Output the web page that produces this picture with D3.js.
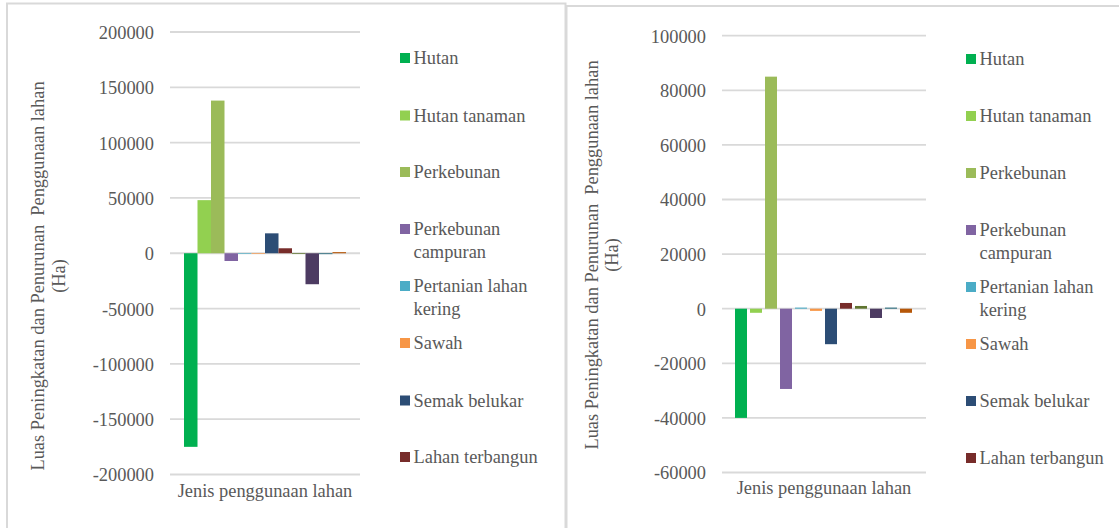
<!DOCTYPE html>
<html>
<head>
<meta charset="utf-8">
<script src="https://cdn.jsdelivr.net/npm/d3@7/dist/d3.min.js"></script>
<style>
  body { margin: 0; background: #fff; }
  svg text { font-family: "Liberation Serif", Tinos, "DejaVu Serif", "Times New Roman", serif; fill: #595959; font-size: 18.4px; }
</style>
</head>
<body>
<svg id="chart" width="1119" height="528" font-family="Liberation Serif, DejaVu Serif, serif"></svg>
<script>
// legend names (only the first 8 are visible in the legend)
const landUse = ["Hutan", "Hutan tanaman", "Perkebunan", "Perkebunan campuran",
                 "Pertanian lahan kering", "Sawah", "Semak belukar", "Lahan terbangun"];

// change in area (Ha), 12 bars per chart
const leftValues  = [-175000, 48000, 138000, -7000, -600, -600, 18000, 4500, -700, -28000, -800, 1000];
const rightValues = [-40000, -1500, 85000, -29400, 400, -800, -13000, 2100, 1000, -3400, 400, -1500];

const leftTicks  = [200000, 150000, 100000, 50000, 0, -50000, -100000, -150000, -200000];
const rightTicks = [100000, 80000, 60000, 40000, 20000, 0, -20000, -40000, -60000];

const barColors = ["#00B050", "#92D050", "#9BBB59", "#8064A2", "#4BACC6", "#F79646",
                   "#2C4D75", "#772C2A", "#5F7530", "#4D3B62", "#276A7C", "#B65708"];

const yTitle = "Luas Peningkatan dan Penurunan  Penggunaan lahan";
const xTitle = "Jenis penggunaan lahan";

const svg = d3.select("#chart");

// panel frames
svg.append("rect").attr("x", 7).attr("y", 3.5).attr("width", 558.5).attr("height", 540)
  .attr("fill", "none").attr("stroke", "#d9d9d9").attr("stroke-width", 2);
svg.append("rect").attr("x", 566.5).attr("y", 6).attr("width", 560).attr("height", 540)
  .attr("fill", "none").attr("stroke", "#d9d9d9").attr("stroke-width", 2);

function drawChart(opt) {
  const g = svg.append("g");

  const y = d3.scaleLinear()
    .domain(d3.extent(opt.ticks))
    .range([opt.yBottom, opt.yTop]);

  const x = d3.scaleBand()
    .domain(d3.range(opt.values.length))
    .range(opt.barRange)
    .paddingInner(opt.padIn)
    .paddingOuter(opt.padOut);

  // gridlines
  g.selectAll(".grid")
    .data(opt.ticks)
    .enter().append("line")
    .attr("x1", opt.plotX[0]).attr("x2", opt.plotX[1])
    .attr("y1", d => y(d)).attr("y2", d => y(d))
    .attr("stroke", "#d9d9d9").attr("stroke-width", 1.8);

  // tick labels (plain hyphen for negatives, like the original)
  const axis = d3.axisLeft(y).tickValues(opt.ticks).tickSize(0).tickPadding(0)
    .tickFormat(d => String(d));
  const ax = g.append("g").attr("transform", `translate(${opt.labelX},0)`).call(axis);
  ax.attr("font-family", null).attr("font-size", null);
  ax.select(".domain").remove();
  ax.selectAll("text").attr("fill", null).attr("dy", "0.35em");

  // bars
  g.selectAll(".bar")
    .data(opt.values)
    .enter().append("rect")
    .attr("x", (d, i) => x(i))
    .attr("width", x.bandwidth())
    .attr("y", d => y(Math.max(0, d)))
    .attr("height", d => Math.abs(y(d) - y(0)))
    .attr("fill", (d, i) => barColors[i]);

  // y axis title (two lines)
  g.append("text")
    .attr("transform", `translate(${opt.titleX[0]},${opt.titleY}) rotate(-90)`)
    .attr("text-anchor", "middle").attr("dy", "0.35em")
    .style("white-space", "pre")
    .text(yTitle);
  g.append("text")
    .attr("transform", `translate(${opt.titleX[1]},${opt.titleY}) rotate(-90)`)
    .attr("text-anchor", "middle").attr("dy", "0.35em")
    .text("(Ha)");

  // x category label
  g.append("text")
    .attr("x", (opt.plotX[0] + opt.plotX[1]) / 2)
    .attr("y", opt.xLabelY)
    .attr("text-anchor", "middle").attr("dy", "0.35em")
    .text(xTitle);

  // legend
  const lg = g.selectAll(".legend")
    .data(landUse)
    .enter().append("g")
    .attr("transform", (d, i) => `translate(${opt.legendX},${opt.legendY[i]})`);
  lg.append("rect")
    .attr("x", 0).attr("y", -5).attr("width", 10).attr("height", 10)
    .attr("fill", (d, i) => barColors[i]);
  lg.append("text")
    .each(function(d) {
      const t = d3.select(this);
      const words = d.split(" ");
      let line = [];
      let tspan = t.append("tspan").attr("x", 13.5).attr("dy", "0.35em");
      words.forEach(w => {
        line.push(w);
        tspan.text(line.join(" "));
        if (tspan.node().getComputedTextLength() > 130 && line.length > 1) {
          line.pop();
          tspan.text(line.join(" "));
          line = [w];
          tspan = t.append("tspan").attr("x", 13.5).attr("dy", "22.5px").text(w);
        }
      });
    });
}

drawChart({
  values: leftValues, ticks: leftTicks,
  yTop: 32, yBottom: 474.5,
  plotX: [170, 360], barRange: [184, 346], padIn: 0, padOut: 0,
  labelX: 154,
  titleX: [37.5, 59], titleY: 276,
  xLabelY: 491,
  legendX: 400, legendY: [58, 115.5, 172, 229, 286, 343, 400.5, 457]
});

drawChart({
  values: rightValues, ticks: rightTicks,
  yTop: 35.7, yBottom: 472.5,
  plotX: [722, 926], barRange: [733.5, 913.5], padIn: 0.2, padOut: 0.1,
  labelX: 706,
  titleX: [591.5, 612], titleY: 255,
  xLabelY: 488,
  legendX: 966, legendY: [59, 116, 173, 230, 287, 344, 401, 458]
});
</script>
</body>
</html>
